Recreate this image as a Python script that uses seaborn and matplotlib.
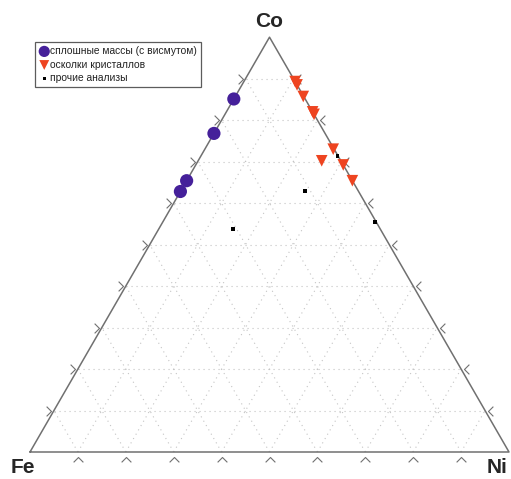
import numpy as np
import pandas as pd
import matplotlib
matplotlib.use('Agg')
import matplotlib.pyplot as plt
from matplotlib.path import Path
from matplotlib.transforms import Affine2D
import seaborn as sns

# ---------------------------------------------------------------
# Data: ternary compositions (Fe, Co, Ni), fractions
# ---------------------------------------------------------------
mass_co = [0.851, 0.768, 0.654, 0.628]
mass_ni = [0.0, 0.0, 0.0, 0.0]

cryst_co = [0.893, 0.885, 0.857, 0.820, 0.814, 0.730, 0.702, 0.692, 0.654]
cryst_ni = [0.107, 0.115, 0.142, 0.180, 0.186, 0.268, 0.258, 0.308, 0.346]

other_co = [0.714, 0.630, 0.555, 0.537]
other_ni = [0.285, 0.259, 0.443, 0.155]

labels = ['сплошные массы (с висмутом)', 'осколки кристаллов', 'прочие анализы']
vertex_labels = ['Fe', 'Ni', 'Co']


def to_xy(co, ni):
    co = np.asarray(co)
    ni = np.asarray(ni)
    return ni + 0.5 * co, co * np.sqrt(3) / 2


rows = []
for name, co, ni in [(labels[0], mass_co, mass_ni),
                     (labels[1], cryst_co, cryst_ni),
                     (labels[2], other_co, other_ni)]:
    x, y = to_xy(co, ni)
    for xi, yi in zip(x, y):
        rows.append({'x': xi, 'y': yi, 'group': name})
df = pd.DataFrame(rows)

# ---------------------------------------------------------------
# Figure
# ---------------------------------------------------------------
sns.set_style('white')
plt.rcParams['font.family'] = ['Liberation Sans', 'DejaVu Sans']

fig = plt.figure(figsize=(5.11, 4.79), dpi=100)
ax = fig.add_axes([0, 0, 1, 1])
ax.set_xlim(-30 / 479, 481 / 479)
ax.set_ylim(-27 / 479, 452 / 479)
ax.set_aspect('equal')
ax.axis('off')

h = np.sqrt(3) / 2
# dotted grid
for k in range(1, 10):
    t = k / 10
    gkw = dict(color='#c4c4c4', lw=0.8, ls=(0, (1, 3.5)), zorder=1)
    # lines of constant Co (horizontal)
    ax.plot([0.5 * t, 1 - 0.5 * t], [t * h, t * h], **gkw)
    # lines of constant Ni
    ax.plot([t, t + 0.5 * (1 - t)], [0, (1 - t) * h], **gkw)
    # lines of constant Fe
    ax.plot([1 - t, 0.5 * (1 - t)], [0, (1 - t) * h], **gkw)

# triangle outline
ax.plot([0, 1, 0.5, 0], [0, 0, h, 0], color='#707070', lw=1.1, zorder=2)

# chevron tick marks
chev = Path([(-1, -1), (0, 0), (-1, 1)], [Path.MOVETO, Path.LINETO, Path.LINETO])
tk = np.arange(1, 10) / 10
tkw = dict(linestyle='none', markersize=7, markerfacecolor='none',
           markeredgecolor='#707070', markeredgewidth=0.8, zorder=2)
# base
ax.plot(tk, np.full(9, -0.01), marker=chev.transformed(Affine2D().rotate_deg(90)), **tkw)
# left edge
ax.plot(0.5 * tk - 0.006, tk * h, marker=chev, **tkw)
# right edge
ax.plot(1 - 0.5 * tk + 0.006, tk * h, marker=chev.transformed(Affine2D().rotate_deg(180)), **tkw)

palette = {labels[0]: '#45209a', labels[1]: '#ee4420', labels[2]: '#000000'}
markers = {labels[0]: 'o', labels[1]: 'v', labels[2]: 's'}
sizes = {labels[0]: 90, labels[1]: 70, labels[2]: 8}
for g in labels:
    sub = df[df['group'] == g]
    sns.scatterplot(data=sub, x='x', y='y', color=palette[g], marker=markers[g],
                    s=sizes[g], edgecolor='none', linewidth=0, ax=ax,
                    label=g, zorder=3)

leg = ax.legend(loc='upper left', bbox_to_anchor=(35 / 511, 1 - 42 / 479),
                borderaxespad=0, frameon=True, fancybox=False,
                edgecolor='#333333', fontsize=7.4, handletextpad=0.1,
                borderpad=0.4, labelspacing=0.35, handlelength=1.0,
                markerscale=0.85)
leg.get_frame().set_linewidth(0.9)
for t in leg.get_texts():
    t.set_color('#222222')

ax.text(0.5, (452 - 31) / 479, vertex_labels[2], ha='center', va='bottom',
        fontsize=15, fontweight='bold')
ax.text(-0.015, -0.012, vertex_labels[0], ha='center', va='top',
        fontsize=15, fontweight='bold')
ax.text(0.975, -0.012, vertex_labels[1], ha='center', va='top',
        fontsize=15, fontweight='bold')

fig.savefig('out.png', dpi=100)
